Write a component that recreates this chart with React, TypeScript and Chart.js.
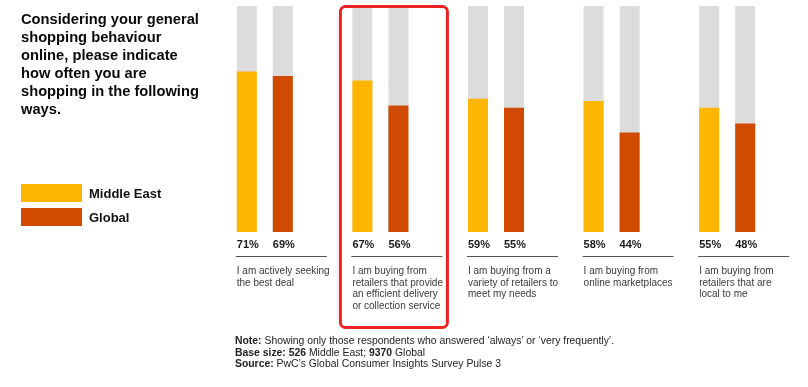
import React, { useEffect, useRef } from "react";
import { Chart, registerables } from "chart.js";

Chart.register(...registerables);

// ---- data ----
const categoryLabels: string[][] = [
  ["I am actively seeking", "the best deal"],
  ["I am buying from", "retailers that provide", "an efficient delivery", "or collection service"],
  ["I am buying from a", "variety of retailers to", "meet my needs"],
  ["I am buying from", "online marketplaces"],
  ["I am buying from", "retailers that are", "local to me"],
];
const seriesNames = ["Middle East", "Global"];
const middleEast = [71, 67, 59, 58, 55];
const globalValues = [69, 56, 55, 44, 48];
const trackValue = 100;
const highlightedIndex = 1;

const titleLines = [
  "Considering your general",
  "shopping behaviour",
  "online, please indicate",
  "how often you are",
  "shopping in the following",
  "ways.",
];

const ME_COLOR = "#FFB600";
const GL_COLOR = "#D04A02";
const TRACK_COLOR = "#DCDCDC";
const FONT = '"Liberation Sans", Arial, Helvetica, sans-serif';

const labelsPlugin = {
  id: "pwcLabels",
  afterDatasetsDraw(chart: any) {
    const ctx = chart.ctx;
    const area = chart.chartArea;
    const xScale = chart.scales.x;
    const meMeta = chart.getDatasetMeta(0);
    const glMeta = chart.getDatasetMeta(1);
    ctx.save();
    categoryLabels.forEach((lines, i) => {
      const meBar = meMeta.data[i];
      const glBar = glMeta.data[i];
      const meLeft = meBar.x - meBar.width / 2;
      // percentages
      ctx.font = `bold 11px ${FONT}`;
      ctx.fillStyle = "#1a1a1a";
      ctx.textAlign = "center";
      ctx.textBaseline = "alphabetic";
      ctx.fillText(`${middleEast[i]}%`, meBar.x + 1, area.bottom + 15.5);
      ctx.fillText(`${globalValues[i]}%`, glBar.x + 1, area.bottom + 15.5);
      // separator
      ctx.strokeStyle = "#555";
      ctx.lineWidth = 1;
      ctx.beginPath();
      ctx.moveTo(meLeft - 1, area.bottom + 24.5);
      ctx.lineTo(meLeft + 90, area.bottom + 24.5);
      ctx.stroke();
      // category text
      ctx.font = `10px ${FONT}`;
      ctx.fillStyle = "#3a3a3a";
      ctx.textAlign = "left";
      lines.forEach((ln, j) => {
        ctx.fillText(ln, meLeft, area.bottom + 42 + j * 11.5);
      });
    });
    // highlight box
    const cx = xScale.getPixelForValue(highlightedIndex);
    ctx.strokeStyle = "#EE2222";
    ctx.lineWidth = 3;
    ctx.beginPath();
    const l = cx - 40, r = cx + 67, t = 6.5, b = 327.5;
    (ctx as any).roundRect(l, t, r - l, b - t, 5);
    ctx.stroke();
    ctx.restore();
  },
};

export default function App() {
  const canvasRef = useRef<HTMLCanvasElement | null>(null);

  useEffect(() => {
    if (!canvasRef.current) return;
    const track = categoryLabels.map(() => trackValue);
    const chart = new Chart(canvasRef.current, {
      type: "bar",
      data: {
        labels: categoryLabels.map((l) => l.join(" ")),
        datasets: [
          { label: seriesNames[0], data: middleEast, backgroundColor: ME_COLOR, stack: "me", order: 0 },
          { label: seriesNames[1], data: globalValues, backgroundColor: GL_COLOR, stack: "gl", order: 0 },
          { label: "track-me", data: track, backgroundColor: TRACK_COLOR, stack: "me", order: 1 },
          { label: "track-gl", data: track, backgroundColor: TRACK_COLOR, stack: "gl", order: 1 },
        ],
      },
      options: {
        responsive: false,
        animation: false,
        layout: { padding: { left: 207, right: 23, top: 6, bottom: 155 } },
        datasets: { bar: { categoryPercentage: 0.623, barPercentage: 0.556 } },
        plugins: { legend: { display: false }, tooltip: { enabled: false } },
        scales: {
          x: { stacked: true, display: false },
          y: { stacked: false, display: false, min: 0, max: 100 },
        },
      },
      plugins: [labelsPlugin],
    });
    return () => chart.destroy();
  }, []);

  return (
    <div style={{ position: "absolute", left: 0, top: 0, width: 808, height: 387, background: "#fff", overflow: "hidden", fontFamily: FONT }}>
      <canvas ref={canvasRef} width={808} height={387} style={{ position: "absolute", left: 0, top: 0, display: "block" }} />
      <div style={{ position: "absolute", left: 21, top: 10, fontSize: 14.7, lineHeight: "18px", fontWeight: "bold", color: "#0a0a0a", whiteSpace: "nowrap" }}>
        {titleLines.map((t, i) => (
          <div key={i}>{t}</div>
        ))}
      </div>
      {seriesNames.map((name, i) => (
        <div key={name} style={{ position: "absolute", left: 21, top: 184 + i * 24, height: 18, display: "flex", alignItems: "center" }}>
          <div style={{ width: 61, height: 18, background: i === 0 ? ME_COLOR : GL_COLOR }} />
          <div style={{ marginLeft: 7, fontSize: 13, fontWeight: "bold", color: "#111", lineHeight: "18px", position: "relative", top: 1 }}>{name}</div>
        </div>
      ))}
      <div style={{ position: "absolute", left: 235, top: 335, fontSize: 10.4, lineHeight: "11.7px", color: "#222", whiteSpace: "nowrap" }}>
        <div><b>Note:</b> Showing only those respondents who answered ‘always’ or ‘very frequently’.</div>
        <div><b>Base size: 526</b> Middle East; <b>9370</b> Global</div>
        <div><b>Source:</b> PwC’s Global Consumer Insights Survey Pulse 3</div>
      </div>
    </div>
  );
}
